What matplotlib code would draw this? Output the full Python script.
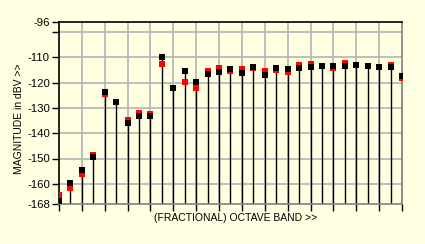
import numpy as np
import matplotlib
matplotlib.use('Agg')
import matplotlib.pyplot as plt

plt.rcParams['font.family'] = ['Liberation Sans', 'DejaVu Sans']

# band index and levels (dBV)
bands = np.arange(31)
measured = [-167.0, -159.8, -154.7, -149.5, -123.8, -127.8, -135.8, -133.2, -133.2, -110.0,
            -122.2, -115.5, -119.9, -116.6, -115.9, -114.5, -116.3, -113.7, -117.1, -114.1,
            -114.5, -114.1, -113.8, -113.5, -113.3, -113.5, -113.1, -113.5, -113.9, -113.9,
            -117.4]
reference = [-164.5, -161.8, -156.0, -148.5, -124.3, -127.8, -134.8, -132.0, -132.4, -112.7,
             -122.2, -119.9, -122.2, -115.5, -114.2, -115.5, -114.7, -114.1, -115.3, -115.0,
             -115.6, -113.1, -112.7, -113.5, -114.2, -112.3, -113.1, -113.5, -113.9, -112.9,
             -118.2]

y_ticks = [-96, -100, -110, -120, -130, -140, -150, -160, -168]
y_labels = ['-96', '', '-110', '-120', '-130', '-140', '-150', '-160', '-168']

bg = '#ffffe1'
W, H = 425, 244

fig = plt.figure(figsize=(W / 100, H / 100), dpi=100, facecolor=bg)
ax = fig.add_axes([59 / W, 1 - 204 / H, 343 / W, 182 / H], facecolor=bg)

#grid, stems then markers (red behind black)
for yv in [-100, -110, -120, -130, -140, -150, -160]:
    ax.axhline(yv, color='#b4b4b4', lw=1.2, zorder=1)
for xv in range(2, 30, 2):
    ax.axvline(xv, color='#b4b4b4', lw=1.2, zorder=1)

ax.vlines(bands, -168, measured, color='black', lw=1.0, zorder=2)
ax.plot(bands, reference, ls='none', marker='s', ms=4.6, mfc='#ff0000', mec='#ff0000',
        mew=0, zorder=3)
ax.plot(bands, measured, ls='none', marker='s', ms=4.6, mfc='black', mec='black',
        mew=0, zorder=4)

ax.set_xlim(0, 30)
ax.set_ylim(-168, -96)
ax.set_yticks(y_ticks)
ax.set_yticklabels(y_labels)
ax.set_xticks(range(0, 31, 2))
ax.set_xticklabels([])
ax.tick_params(axis='y', length=5, width=1, pad=1.5, labelsize=8.2, colors='black')
ax.tick_params(axis='x', length=5, width=1, color='black')

ax.spines['top'].set_color('black')
ax.spines['left'].set_color('black')
ax.spines['right'].set_color('#808080')
ax.spines['bottom'].set_color('#808080')
for s in ax.spines.values():
    s.set_linewidth(1.2)

fig.text(19 / W, 1 - 119 / H, 'MAGNITUDE in dBV >>', rotation=90, ha='center', va='center',
         fontsize=7.5)
fig.text(235.5 / W, 1 - 218 / H, '(FRACTIONAL) OCTAVE BAND >>', ha='center', va='center',
         fontsize=7.5)

fig.savefig('out.png', dpi=100, facecolor=bg)
